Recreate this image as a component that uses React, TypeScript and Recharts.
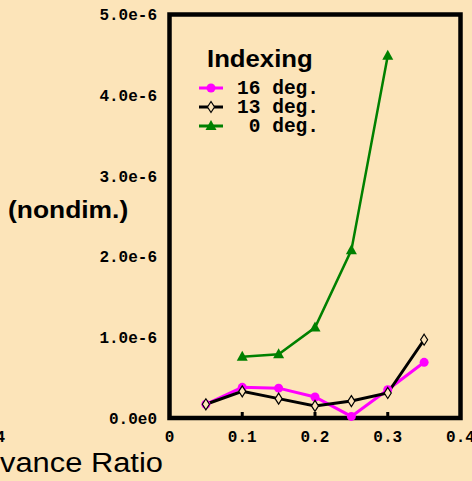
import { Legend, Line, LineChart, ReferenceArea, XAxis, YAxis } from "recharts";

// advance ratio (x) and coefficient values in units of 1e-6
const advance = [0.05, 0.1, 0.15, 0.2, 0.25, 0.3, 0.35];
const deg16 = [0.17, 0.38, 0.37, 0.26, 0.02, 0.35, 0.69];
const deg13 = [0.17, 0.33, 0.24, 0.15, 0.21, 0.31, 0.97];
const deg0 = [null, 0.76, 0.79, 1.12, 2.08, 4.49, null];

const xTicks = [0, 0.1, 0.2, 0.3, 0.4];
const yTicks = [0, 1, 2, 3, 4, 5];

const seriesNames = { d16: "16 deg.", d13: "13 deg.", d0: "0 deg." };
const legendOrder = ["d16", "d13", "d0"];

const data = advance.map((x, i) => ({
  x,
  d16: deg16[i],
  d13: deg13[i],
  d0: deg0[i]
}));

const BG = "#FCE4B9";
const MONO = "'Liberation Mono', 'DejaVu Sans Mono', monospace";
const SANS = "'Liberation Sans', Arial, sans-serif";

const fmtY = (v: number) => (v === 0 ? "0.0e0" : `${v.toFixed(1)}e-6`);
const fmtX = (v: number) => (v === 0 ? "0" : v.toFixed(1));

function Marker({ kind, cx, cy, color }: { kind: string; cx: number; cy: number; color: string }) {
  if (kind === "d16") return <circle cx={cx} cy={cy} r={4.5} fill={color} />;
  if (kind === "d13")
    return (
      <polygon
        points={`${cx},${cy - 5.5} ${cx + 3.5},${cy} ${cx},${cy + 5.5} ${cx - 3.5},${cy}`}
        fill={BG}
        stroke={color}
        strokeWidth={1.2}
      />
    );
  return <polygon points={`${cx},${cy - 6} ${cx + 5.5},${cy + 4} ${cx - 5.5},${cy + 4}`} fill={color} />;
}

const dotFor = (kind: string, color: string) => (p: any) => {
  if (p.cx == null || p.cy == null || p.value == null) return <g key={p.key} />;
  return <Marker key={p.key} kind={kind} cx={p.cx} cy={p.cy} color={color} />;
};

function IndexLegend({ payload }: any) {
  const items = [...(payload || [])].sort(
    (a: any, b: any) => legendOrder.indexOf(a.dataKey) - legendOrder.indexOf(b.dataKey)
  );
  return (
    <svg width={200} height={100} style={{ overflow: "visible" }}>
      <text
        x={12 / 1.05}
        y={27}
        transform="scale(1.05,1)"
        fontFamily={SANS}
        fontWeight="bold"
        fontSize={24.5}
        fill="#000"
      >
        Indexing
      </text>
      {items.map((entry: any, i: number) => {
        const cy = 48 + i * 19;
        return (
          <g key={entry.dataKey}>
            <line x1={4} x2={28} y1={cy} y2={cy} stroke={entry.color} strokeWidth={3} />
            <Marker kind={entry.dataKey} cx={16} cy={cy} color={entry.color} />
            <text
              x={124}
              y={cy + 6}
              textAnchor="end"
              fontFamily={MONO}
              fontWeight="bold"
              fontSize={19.5}
              fill="#000"
            >
              {entry.value}
            </text>
          </g>
        );
      })}
    </svg>
  );
}

export default function App() {
  const tickStyle = { fontFamily: MONO, fontWeight: "bold", fontSize: 16, fill: "#000" };
  return (
    <div
      style={{
        position: "absolute",
        left: 0,
        top: 0,
        width: 472,
        height: 481,
        background: BG,
        overflow: "hidden"
      }}
    >
      <LineChart width={472} height={481} data={data} margin={{ top: 14.5, right: 11.5, bottom: 0, left: 0 }}>
        <XAxis
          dataKey="x"
          type="number"
          domain={[0, 0.4]}
          ticks={xTicks}
          tickFormatter={fmtX}
          height={63}
          axisLine={false}
          tickSize={-6}
          tickMargin={18.6}
          tickLine={{ stroke: "#000", strokeWidth: 3 }}
          tick={tickStyle}
          interval={0}
        />
        <XAxis
          xAxisId="top"
          dataKey="x"
          type="number"
          orientation="top"
          domain={[0, 0.4]}
          ticks={xTicks}
          height={0}
          axisLine={false}
          tickSize={-6}
          tickLine={{ stroke: "#000", strokeWidth: 3 }}
          tick={false}
        />
        <YAxis
          type="number"
          domain={[0, 5]}
          ticks={yTicks}
          tickFormatter={fmtY}
          width={169.5}
          axisLine={false}
          tickLine={false}
          tickSize={0}
          tickMargin={12.5}
          tick={tickStyle}
          interval={0}
        />
        <ReferenceArea x1={0} x2={0.4} y1={0} y2={5} fill="none" stroke="#000" strokeWidth={4.5} ifOverflow="visible" />
        <Legend
          layout="horizontal"
          verticalAlign="middle"
          align="center"
          content={<IndexLegend />}
          wrapperStyle={{ left: 195, top: 40, width: 200, height: 100 }}
        />
        <Line
          dataKey="d16"
          name={seriesNames.d16}
          stroke="#FF00FF"
          strokeWidth={3}
          dot={dotFor("d16", "#FF00FF")}
          isAnimationActive={false}
        />
        <Line
          dataKey="d13"
          name={seriesNames.d13}
          stroke="#000000"
          strokeWidth={3}
          dot={dotFor("d13", "#000000")}
          isAnimationActive={false}
        />
        <Line
          dataKey="d0"
          name={seriesNames.d0}
          stroke="#008000"
          strokeWidth={2.5}
          dot={dotFor("d0", "#008000")}
          isAnimationActive={false}
        />
      </LineChart>
      <svg
        width={472}
        height={481}
        style={{ position: "absolute", left: 0, top: 0, pointerEvents: "none" }}
      >
        <text x={8 / 1.1} y={218} transform="scale(1.1,1)" fontFamily={SANS} fontWeight="bold" fontSize={24} fill="#000">
          (nondim.)
        </text>
        <text x={5} y={442} textAnchor="end" fontFamily={MONO} fontWeight="bold" fontSize={16} fill="#000">
          0.4
        </text>
        <text x={-33} y={472} transform="scale(1.143,1)" fontFamily={SANS} fontSize={27} fill="#000">
          Advance Ratio
        </text>
      </svg>
    </div>
  );
}
